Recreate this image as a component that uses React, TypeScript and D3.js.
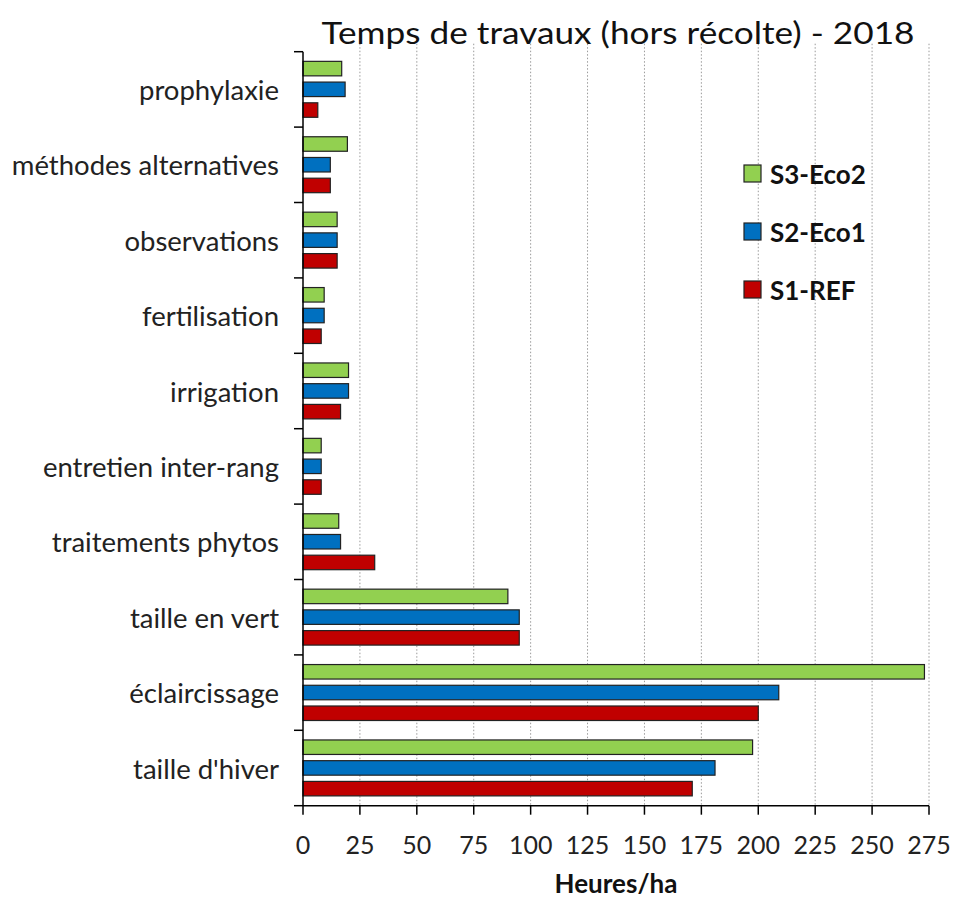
import React, { useEffect, useRef } from "react";
import * as d3 from "d3";

const categories = [
  "prophylaxie",
  "méthodes alternatives",
  "observations",
  "fertilisation",
  "irrigation",
  "entretien inter-rang",
  "traitements phytos",
  "taille en vert",
  "éclaircissage",
  "taille d'hiver",
];
const seriesNames = ["S3-Eco2", "S2-Eco1", "S1-REF"];
const seriesColors = ["#92d050", "#0070c0", "#c00000"];
const s3Eco2 = [17, 19.5, 15, 9.3, 20, 8, 15.7, 90, 273, 197.5];
const s2Eco1 = [18.5, 12, 15, 9.3, 20, 8, 16.5, 95, 209, 181];
const s1Ref = [6.5, 12, 15, 8, 16.5, 8, 31.5, 95, 200, 171];
const xTicks = [0, 25, 50, 75, 100, 125, 150, 175, 200, 225, 250, 275];
const title = "Temps de travaux (hors récolte) - 2018";
const xTitle = "Heures/ha";

const FONT = "Lato, 'Open Sans', sans-serif";

export default function App() {
  const ref = useRef<SVGSVGElement>(null);
  useEffect(() => {
    const svg = d3.select(ref.current);
    svg.selectAll("*").remove();
    const left = 303, right = 929, top = 51.7, bottom = 805.7;
    const x = d3.scaleLinear().domain([0, 275]).range([left, right]);
    const y0 = d3.scaleBand<string>().domain(categories).range([top, bottom]).padding(0);
    const bw = y0.bandwidth();
    const y1 = d3.scaleBand<string>().domain(seriesNames).range([bw * 0.128, bw * 0.87]).paddingInner(0.3);
    const values = [s3Eco2, s2Eco1, s1Ref];

    // gridlines
    svg.append("g").selectAll("line").data(xTicks.filter((t) => t > 0)).join("line")
      .attr("x1", (d) => x(d)).attr("x2", (d) => x(d))
      .attr("y1", top - 8).attr("y2", bottom)
      .attr("stroke", "#9a9a9a").attr("stroke-width", 1).attr("stroke-dasharray", "1.5,2");

    // bars
    const g = svg.append("g");
    categories.forEach((c, ci) => {
      seriesNames.forEach((s, si) => {
        g.append("rect")
          .attr("x", x(0))
          .attr("y", (y0(c) as number) + (y1(s) as number))
          .attr("width", x(values[si][ci]) - x(0))
          .attr("height", y1.bandwidth())
          .attr("fill", seriesColors[si])
          .attr("stroke", "#222")
          .attr("stroke-width", 1.2);
      });
    });

    // y axis
    const ya = svg.append("g");
    ya.append("line").attr("x1", left).attr("x2", left).attr("y1", top).attr("y2", bottom)
      .attr("stroke", "#000").attr("stroke-width", 1.5);
    const bounds = categories.map((c) => y0(c) as number).concat([bottom]);
    ya.selectAll("line.t").data(bounds).join("line").attr("class", "t")
      .attr("x1", left - 9).attr("x2", left).attr("y1", (d) => d).attr("y2", (d) => d)
      .attr("stroke", "#000").attr("stroke-width", 1.5);
    ya.selectAll("text").data(categories).join("text")
      .attr("x", 279).attr("y", (d) => (y0(d) as number) + bw / 2)
      .attr("text-anchor", "end").attr("dominant-baseline", "central")
      .attr("font-family", FONT).attr("font-size", 27.5).attr("fill", "#222")
      .text((d) => d);

    // x axis
    const xa = svg.append("g");
    xa.append("line").attr("x1", left).attr("x2", right).attr("y1", bottom).attr("y2", bottom)
      .attr("stroke", "#000").attr("stroke-width", 1.5);
    xa.selectAll("line.t").data(xTicks).join("line").attr("class", "t")
      .attr("x1", (d) => x(d)).attr("x2", (d) => x(d)).attr("y1", bottom).attr("y2", bottom + 9)
      .attr("stroke", "#000").attr("stroke-width", 1.5);
    xa.selectAll("text").data(xTicks).join("text")
      .attr("x", (d) => x(d)).attr("y", 844)
      .attr("text-anchor", "middle").attr("dominant-baseline", "central")
      .attr("font-family", FONT).attr("font-size", 25).attr("fill", "#222")
      .text((d) => String(d));

    svg.append("text").attr("x", 616).attr("y", 883)
      .attr("text-anchor", "middle").attr("dominant-baseline", "central")
      .attr("font-family", FONT).attr("font-size", 26).attr("font-weight", "bold").attr("fill", "#111")
      .text(xTitle);

    svg.append("text").attr("x", 618).attr("y", 44)
      .attr("text-anchor", "middle")
      .attr("font-family", FONT).attr("font-size", 31).attr("fill", "#111")
      .attr("textLength", 593).attr("lengthAdjust", "spacingAndGlyphs")
      .text(title);

    // legend
    const lg = svg.append("g");
    seriesNames.forEach((s, i) => {
      const yy = 165 + i * 58;
      lg.append("rect").attr("x", 744).attr("y", yy).attr("width", 17).attr("height", 17)
        .attr("fill", seriesColors[i]).attr("stroke", "#222").attr("stroke-width", 1.2);
      lg.append("text").attr("x", 770).attr("y", yy + 9)
        .attr("dominant-baseline", "central")
        .attr("font-family", FONT).attr("font-size", 26).attr("font-weight", "bold").attr("fill", "#111")
        .text(s);
    });
  }, []);
  return (
    <svg ref={ref} width={954} height={901}
      style={{ position: "absolute", left: 0, top: 0, background: "#fff" }} />
  );
}
